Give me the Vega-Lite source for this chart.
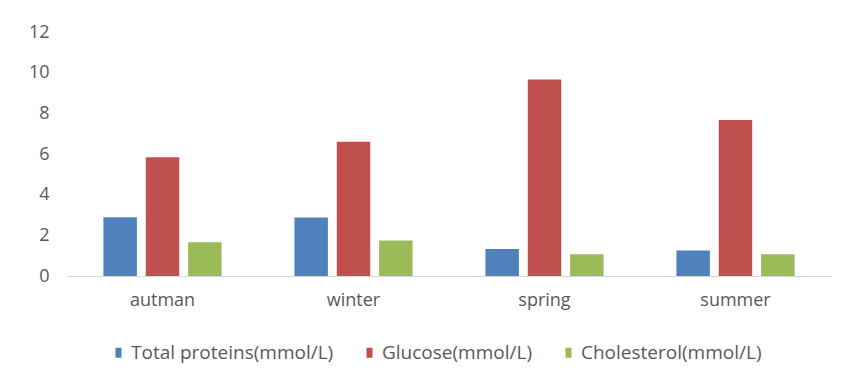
{
  "$schema": "https://vega.github.io/schema/vega-lite/v6.json",
  "autosize": "none",
  "width": 764,
  "height": 244,
  "padding": {"left": 67, "top": 32, "right": 13, "bottom": 107},
  "background": "white",
  "data": {
    "values": [
      {"season": "autman", "measure": "Total proteins(mmol/L)", "value": 2.89},
      {"season": "autman", "measure": "Glucose(mmol/L)", "value": 5.84},
      {"season": "autman", "measure": "Cholesterol(mmol/L)", "value": 1.66},
      {"season": "winter", "measure": "Total proteins(mmol/L)", "value": 2.88},
      {"season": "winter", "measure": "Glucose(mmol/L)", "value": 6.6},
      {"season": "winter", "measure": "Cholesterol(mmol/L)", "value": 1.74},
      {"season": "spring", "measure": "Total proteins(mmol/L)", "value": 1.33},
      {"season": "spring", "measure": "Glucose(mmol/L)", "value": 9.67},
      {"season": "spring", "measure": "Cholesterol(mmol/L)", "value": 1.07},
      {"season": "summer", "measure": "Total proteins(mmol/L)", "value": 1.25},
      {"season": "summer", "measure": "Glucose(mmol/L)", "value": 7.67},
      {"season": "summer", "measure": "Cholesterol(mmol/L)", "value": 1.07}
    ]
  },
  "mark": {"type": "bar"},
  "encoding": {
    "x": {
      "field": "season",
      "type": "nominal",
      "sort": ["autman", "winter", "spring", "summer"],
      "scale": {"paddingInner": 0, "paddingOuter": 0},
      "axis": {
        "title": null,
        "labelAngle": 0,
        "ticks": false,
        "domainColor": "#d9d9d9",
        "domainWidth": 1,
        "labelPadding": 15,
        "labelFont": "Open Sans",
        "labelFontSize": 18,
        "labelColor": "#595959"
      }
    },
    "xOffset": {
      "field": "measure",
      "type": "nominal",
      "sort": ["Total proteins(mmol/L)", "Glucose(mmol/L)", "Cholesterol(mmol/L)"],
      "scale": {"paddingInner": 0.21, "paddingOuter": 0.86}
    },
    "y": {
      "field": "value",
      "type": "quantitative",
      "scale": {"domain": [0, 12], "nice": false},
      "axis": {
        "title": null,
        "values": [0, 2, 4, 6, 8, 10, 12],
        "grid": false,
        "domain": false,
        "ticks": false,
        "labelPadding": 18,
        "labelFont": "Open Sans",
        "labelFontSize": 18,
        "labelColor": "#595959"
      }
    },
    "color": {
      "field": "measure",
      "type": "nominal",
      "sort": ["Total proteins(mmol/L)", "Glucose(mmol/L)", "Cholesterol(mmol/L)"],
      "scale": {
        "domain": ["Total proteins(mmol/L)", "Glucose(mmol/L)", "Cholesterol(mmol/L)"],
        "range": ["#4f81bd", "#c0504d", "#9bbb59"]
      },
      "legend": {
        "title": null,
        "orient": "none",
        "direction": "horizontal",
        "legendX": 42,
        "legendY": 311,
        "symbolType": "M-0.6,-1L0.6,-1L0.6,1L-0.6,1Z",
        "symbolSize": 100,
        "symbolStrokeWidth": 0,
        "labelFont": "Open Sans",
        "labelFontSize": 19,
        "labelLimit": 0,
        "labelColor": "#595959",
        "labelOffset": 3,
        "columnPadding": 26
      }
    }
  },
  "config": {"view": {"stroke": null}}
}
